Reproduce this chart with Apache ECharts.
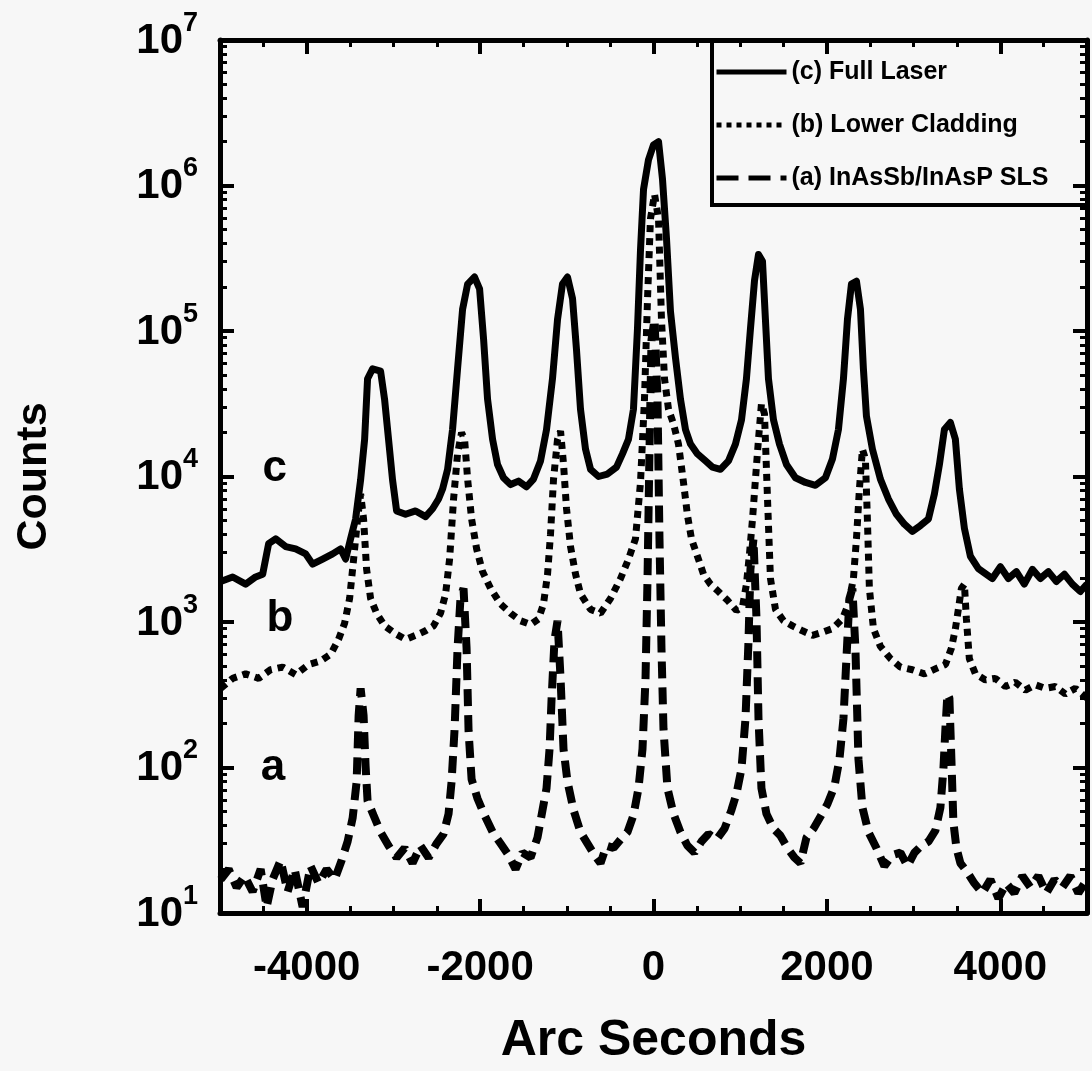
<!DOCTYPE html>
<html>
<head>
<meta charset="utf-8">
<script src="https://cdn.jsdelivr.net/npm/echarts@6/dist/echarts.min.js"></script>
<style>
  html, body { margin: 0; padding: 0; background: #f7f7f7; }
  #chart { width: 1092px; height: 1071px; }
</style>
</head>
<body>
<div id="chart"></div>
<script>
// (c) full laser, [arc seconds, counts]
const fullLaser = [
  [-4992, 1900], [-4854, 2040], [-4704, 1820], [-4589, 2040], [-4508, 2130], [-4439, 3460], [-4358, 3730],
  [-4243, 3300], [-4128, 3180], [-4012, 2940], [-3932, 2500], [-3816, 2710], [-3701, 2940], [-3609, 3180],
  [-3551, 2710], [-3494, 3730], [-3436, 5100], [-3378, 9500], [-3332, 18000], [-3298, 47000], [-3240, 55000],
  [-3148, 53000], [-3102, 34000], [-3056, 18000], [-3010, 9500], [-2963, 5800], [-2860, 5500], [-2744, 5800],
  [-2629, 5300], [-2548, 6000], [-2479, 7000], [-2433, 8200], [-2375, 11200], [-2318, 21000], [-2260, 55000],
  [-2202, 141000], [-2144, 210000], [-2064, 235000], [-2006, 195000], [-1960, 88000], [-1914, 34000],
  [-1856, 18000], [-1799, 12100], [-1730, 9800], [-1649, 8800], [-1557, 9300], [-1464, 8500], [-1384, 9600],
  [-1303, 12800], [-1234, 21000], [-1165, 47000], [-1107, 120000], [-1050, 210000], [-992, 235000],
  [-934, 167000], [-888, 74000], [-842, 29000], [-784, 15400], [-726, 11200], [-634, 10000], [-531, 10400],
  [-427, 11600], [-358, 14300], [-289, 18000], [-231, 29000], [-185, 103000], [-150, 360000], [-115, 940000],
  [-58, 1500000], [0, 1900000], [58, 2000000], [104, 1100000], [150, 430000], [196, 136000], [254, 65000],
  [311, 34000], [369, 21000], [427, 16700], [507, 14300], [600, 12800], [680, 11600], [772, 11200],
  [865, 12800], [945, 16700], [1015, 24500], [1072, 47000], [1118, 103000], [1165, 222000], [1211, 336000],
  [1257, 302000], [1291, 120000], [1326, 47000], [1384, 24500], [1453, 16700], [1533, 12100], [1637, 9800],
  [1753, 9100], [1868, 8700], [1983, 9800], [2064, 13200], [2133, 21000], [2191, 47000], [2237, 120000],
  [2283, 210000], [2341, 220000], [2387, 141000], [2421, 55000], [2456, 26000], [2525, 15400], [2617, 9600],
  [2710, 7000], [2802, 5500], [2894, 4700], [2986, 4200], [3079, 4600], [3171, 5100], [3240, 7600],
  [3298, 12100], [3355, 21000], [3424, 23500], [3482, 18000], [3528, 8200], [3586, 4400], [3655, 2830],
  [3747, 2330], [3828, 2150], [3909, 1990], [4001, 2400], [4093, 1990], [4185, 2220], [4277, 1820],
  [4370, 2300], [4462, 1990], [4554, 2220], [4647, 1900], [4739, 2130], [4831, 1820], [4923, 1620], [5000, 1820]
]

// (b) lower cladding
const lowerCladding = [
  [-4992, 350], [-4854, 410], [-4704, 440], [-4554, 410], [-4416, 470], [-4278, 490], [-4128, 435],
  [-3978, 510], [-3840, 540], [-3724, 600], [-3632, 760], [-3563, 980], [-3505, 1450], [-3459, 2700],
  [-3413, 5100], [-3378, 7600], [-3344, 5100], [-3309, 2300], [-3263, 1450], [-3194, 1150], [-3102, 940],
  [-2975, 830], [-2860, 760], [-2744, 810], [-2629, 870], [-2537, 940], [-2456, 1150], [-2398, 1560],
  [-2352, 2700], [-2306, 7000], [-2260, 14300], [-2214, 20000], [-2179, 18000], [-2144, 9600], [-2098, 5100],
  [-2041, 3200], [-1972, 2220], [-1879, 1700], [-1764, 1330], [-1649, 1150], [-1534, 1020], [-1418, 960],
  [-1326, 1050], [-1269, 1330], [-1222, 2130], [-1188, 4000], [-1153, 9600], [-1107, 18000], [-1072, 20500],
  [-1038, 12200], [-1003, 6000], [-957, 3300], [-899, 2130], [-842, 1560], [-726, 1220], [-611, 1150],
  [-496, 1450], [-380, 1990], [-289, 2700], [-208, 3730], [-150, 9100], [-104, 34000], [-69, 166000],
  [-35, 590000], [12, 870000], [58, 590000], [92, 120000], [127, 47000], [173, 29000], [231, 23000],
  [288, 16700], [346, 9100], [392, 5400], [438, 3730], [507, 2830], [577, 2130], [657, 1820], [749, 1620],
  [853, 1410], [957, 1200], [1026, 1270], [1072, 1820], [1107, 2940], [1142, 5100], [1176, 9600],
  [1211, 18000], [1245, 31600], [1280, 27000], [1315, 7000], [1349, 1990], [1407, 1220], [1499, 1020],
  [1603, 940], [1718, 870], [1833, 810], [1949, 850], [2064, 900], [2179, 1050], [2248, 1330], [2306, 1990],
  [2341, 3730], [2375, 8200], [2410, 15400], [2444, 13200], [2467, 5100], [2490, 1700], [2537, 900],
  [2617, 680], [2733, 560], [2848, 490], [2986, 470], [3125, 440], [3263, 480], [3367, 510], [3436, 660],
  [3482, 900], [3517, 1230], [3551, 1700], [3586, 1820], [3609, 1050], [3643, 560], [3713, 440], [3828, 400],
  [3943, 410], [4058, 360], [4173, 385], [4289, 340], [4404, 370], [4520, 350], [4635, 360], [4750, 320],
  [4866, 350], [5000, 300]
]

// (a) InAsSb/InAsP SLS
const superlattice = [
  [-4992, 17], [-4900, 20], [-4808, 15], [-4716, 18], [-4624, 14], [-4531, 20], [-4462, 11], [-4393, 17],
  [-4301, 23], [-4220, 14], [-4139, 20], [-4047, 11], [-3955, 21], [-3863, 16], [-3770, 20], [-3678, 17],
  [-3597, 23], [-3528, 31], [-3470, 45], [-3424, 80], [-3401, 228], [-3378, 350], [-3344, 228], [-3321, 103],
  [-3298, 59], [-3229, 47], [-3148, 36], [-3056, 29], [-2963, 24], [-2871, 28], [-2779, 22], [-2687, 29],
  [-2594, 24], [-2502, 30], [-2421, 35], [-2364, 48], [-2329, 80], [-2294, 185], [-2260, 660], [-2225, 1500],
  [-2191, 1700], [-2156, 660], [-2133, 178], [-2098, 83], [-2029, 61], [-1949, 47], [-1856, 36], [-1764, 30],
  [-1672, 25], [-1591, 20], [-1511, 26], [-1418, 24], [-1338, 33], [-1280, 51], [-1234, 72], [-1199, 134],
  [-1176, 293], [-1142, 750], [-1107, 1020], [-1072, 410], [-1038, 134], [-992, 80], [-922, 51], [-842, 36],
  [-761, 30], [-680, 25], [-611, 22], [-542, 29], [-461, 28], [-380, 32], [-300, 36], [-231, 47], [-173, 72],
  [-127, 134], [-92, 410], [-69, 1990], [-46, 15400], [-23, 87000], [12, 120000], [46, 34000], [69, 3730],
  [92, 660], [115, 185], [161, 72], [231, 48], [311, 36], [392, 29], [473, 26], [553, 31], [634, 35],
  [726, 32], [819, 38], [899, 51], [957, 66], [1015, 98], [1061, 217], [1096, 750], [1118, 2300],
  [1153, 3730], [1188, 1050], [1211, 217], [1245, 72], [1303, 48], [1384, 38], [1464, 34], [1545, 28],
  [1626, 24], [1695, 22], [1764, 33], [1845, 38], [1926, 46], [2006, 56], [2087, 74], [2145, 114],
  [2191, 217], [2225, 560], [2260, 1450], [2294, 1700], [2329, 660], [2364, 114], [2410, 53], [2479, 36],
  [2571, 28], [2663, 21], [2756, 25], [2848, 26], [2929, 21], [3010, 26], [3090, 29], [3171, 31], [3252, 37],
  [3309, 53], [3344, 98], [3367, 185], [3390, 320], [3413, 300], [3436, 114], [3459, 42], [3494, 28],
  [3540, 22], [3609, 19.5], [3701, 16], [3793, 13.7], [3886, 17], [3978, 12.6], [4070, 16], [4162, 13.7],
  [4254, 18], [4347, 15], [4439, 18], [4531, 13.7], [4624, 17], [4716, 15], [4808, 18], [4900, 13.7], [5000, 17]
]

// curve letters next to the left edge
const curveTags = [
  [-4370, 11350, 'c'],
  [-4310, 1050, 'b'],
  [-4390, 100, 'a'],
]

const seriesNames = ['(c) Full Laser', '(b) Lower Cladding', '(a) InAsSb/InAsP SLS']
const xMajorTicks = [-4000, -2000, 0, 2000, 4000]
const decades = [1, 2, 3, 4, 5, 6]
// log minor ticks (2..9 of each decade), in exponent units
const yMinorTicks = decades.flatMap(d => [2, 3, 4, 5, 6, 7, 8, 9].map(k => d + Math.log10(k)))

const font = 'Liberation Sans, Arial, sans-serif'
const ink = '#000'

const chartDom = document.getElementById('chart')
const myChart = echarts.init(chartDom)

const majorTick = { show: true, inside: true, length: 14, lineStyle: { color: ink, width: 4 } }
const minorTick = { show: true, inside: true, length: 7, lineStyle: { color: ink, width: 3 } }
const frameLine = { show: true, onZero: false, lineStyle: { color: ink, width: 5 } }
const noLine = { show: false, onZero: false }

const option = {
  backgroundColor: '#f7f7f7',
  animation: false,
  textStyle: { fontFamily: font },
  grid: { left: 220, right: 5, top: 40, bottom: 156 },
  graphic: [
    {
      type: 'rect',
      shape: { x: 712, y: 40, width: 375, height: 165 },
      style: { fill: '#f7f7f7', stroke: ink, lineWidth: 4 },
      z: 0,
    },
  ],
  legend: {
    data: [
      { name: seriesNames[0], lineStyle: { width: 5, type: 'solid' } },
      { name: seriesNames[1], lineStyle: { width: 5, type: [5, 5], cap: 'butt' } },
      { name: seriesNames[2], lineStyle: { width: 5, type: [22, 10], cap: 'butt' } },
    ],
    orient: 'vertical',
    left: 714,
    top: 59,
    padding: 0,
    itemGap: 27,
    itemWidth: 70,
    itemHeight: 14,
    itemStyle: { opacity: 0 },
    textStyle: { fontFamily: font, fontWeight: 'bold', fontSize: 25, color: ink, lineHeight: 26 },
  },
  xAxis: [
    {
      type: 'value', min: -5000, max: 5000, position: 'bottom',
      name: 'Arc Seconds', nameLocation: 'middle', nameGap: 103,
      nameTextStyle: { fontFamily: font, fontWeight: 'bold', fontSize: 50, color: ink },
      axisLine: frameLine,
      axisTick: { ...majorTick, customValues: xMajorTicks },
      axisLabel: {
        customValues: xMajorTicks, margin: 34,
        formatter: value => String(value),
        fontFamily: font, fontWeight: 'bold', fontSize: 42, color: ink,
      },
      splitLine: { show: false },
    },
    {
      type: 'value', min: -5000, max: 5000, interval: 500, position: 'bottom',
      axisLine: noLine, axisTick: minorTick, axisLabel: { show: false }, splitLine: { show: false },
    },
    {
      type: 'value', min: -5000, max: 5000, position: 'top',
      axisLine: frameLine,
      axisTick: { ...majorTick, customValues: xMajorTicks },
      axisLabel: { show: false }, splitLine: { show: false },
    },
    {
      type: 'value', min: -5000, max: 5000, interval: 500, position: 'top',
      axisLine: noLine, axisTick: minorTick, axisLabel: { show: false }, splitLine: { show: false },
    },
  ],
  yAxis: [
    {
      type: 'log', logBase: 10, min: 10, max: 1e7, position: 'left',
      name: 'Counts', nameLocation: 'middle', nameGap: 164,
      nameTextStyle: { fontFamily: font, fontWeight: 'bold', fontSize: 43, color: ink },
      axisLine: frameLine,
      axisTick: majorTick,
      axisLabel: {
        margin: 22,
        padding: [0, 0, 8, 0],
        formatter: value => '{b|10}{s|' + Math.round(Math.log10(value)) + '}',
        rich: {
          b: { fontFamily: font, fontWeight: 'bold', fontSize: 42, color: ink, lineHeight: 52, verticalAlign: 'bottom' },
          s: { fontFamily: font, fontWeight: 'bold', fontSize: 27, color: ink, lineHeight: 27, verticalAlign: 'top' },
        },
      },
      splitLine: { show: false },
    },
    {
      type: 'value', min: 1, max: 7, position: 'left',
      axisLine: noLine,
      axisTick: { ...minorTick, customValues: yMinorTicks },
      axisLabel: { show: false }, splitLine: { show: false },
    },
    {
      type: 'log', logBase: 10, min: 10, max: 1e7, position: 'right',
      axisLine: frameLine, axisTick: majorTick, axisLabel: { show: false }, splitLine: { show: false },
    },
    {
      type: 'value', min: 1, max: 7, position: 'right',
      axisLine: noLine,
      axisTick: { ...minorTick, customValues: yMinorTicks },
      axisLabel: { show: false }, splitLine: { show: false },
    },
  ],
  series: [
    {
      name: seriesNames[0],
      type: 'line',
      data: fullLaser,
      showSymbol: false,
      symbol: 'none',
      lineStyle: { color: ink, width: 7, join: 'round' },
      itemStyle: { color: ink },
      z: 5,
    },
    {
      name: seriesNames[1],
      type: 'line',
      data: lowerCladding,
      showSymbol: false,
      symbol: 'none',
      lineStyle: { color: ink, width: 7, type: [7, 6], cap: 'butt' },
      itemStyle: { color: ink },
      z: 4,
    },
    {
      name: seriesNames[2],
      type: 'line',
      data: superlattice,
      showSymbol: false,
      symbol: 'none',
      lineStyle: { color: ink, width: 8, type: [17, 9], cap: 'butt' },
      itemStyle: { color: ink },
      z: 3,
    },
    {
      name: 'tags',
      type: 'scatter',
      data: curveTags,
      symbolSize: 1,
      itemStyle: { color: 'rgba(0,0,0,0)', opacity: 1 },
      label: {
        show: true,
        position: 'inside',
        formatter: p => p.data[2],
        fontFamily: font, fontWeight: 'bold', fontSize: 44, color: ink,
      },
      silent: true,
    },
  ],
}

option && myChart.setOption(option)
</script>
</body>
</html>
